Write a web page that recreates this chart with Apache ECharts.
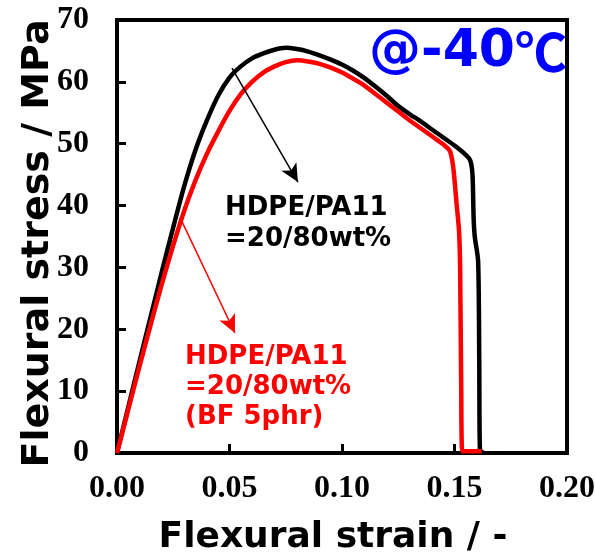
<!DOCTYPE html>
<html>
<head>
<meta charset="UTF-8">
<title>Flexural stress-strain @-40℃</title>
<script type="text/javascript" src="https://cdn.jsdelivr.net/npm/echarts@6/dist/echarts.min.js"></script>
<style>
  body{margin:0;background:#fff}
</style>
</head>
<body>
<div id="main" style="width:595px;height:557px"></div>
<script type="text/javascript">
// strain (-) / stress (MPa)
var blendStrain = [0,0.005,0.01,0.015,0.02,0.025,0.03,0.035,0.04,0.045,0.05,0.055,0.06,0.065,0.07,0.075,0.08,0.085,0.09,0.095,0.1,0.105,0.11,0.115,0.12,0.125,0.13,0.135,0.14,0.145,0.15,0.155,0.157,0.158,0.1585,0.159,0.1605,0.161,0.1613,0.163];
var blendStress = [0,7.4,14.8,22.1,29.4,36.5,43.3,49.1,53.8,57.8,60.7,62.5,63.8,64.6,65.2,65.5,65.3,64.9,64.3,63.6,62.8,61.8,60.6,59.2,57.7,56.1,54.8,53.6,52.3,51.0,49.7,48.2,47.3,45,38,35,31,15,0.5,0];

var bfStrain = [0,0.005,0.01,0.015,0.02,0.025,0.03,0.035,0.04,0.045,0.05,0.055,0.06,0.065,0.07,0.075,0.08,0.085,0.09,0.095,0.1,0.105,0.11,0.115,0.12,0.125,0.13,0.135,0.14,0.145,0.148,0.1495,0.151,0.152,0.1525,0.153,0.1535,0.162];
var bfStress = [0,7.0,14.0,20.8,27.4,33.6,39.3,44.2,48.4,52.0,55.3,58.0,60.0,61.5,62.5,63.2,63.5,63.3,62.9,62.3,61.5,60.5,59.4,58.0,56.6,55.2,53.8,52.5,51.2,49.9,48.8,46,40,36,30,10,0.3,0.3];

var xTicks = [0, 0.05, 0.10, 0.15, 0.20];
var yTicks = [0, 10, 20, 30, 40, 50, 60, 70];

// annotation arrows, [strain, stress] from -> to
var blackArrow = [[0.0511, 62.2], [0.0804, 43.8]];
var redArrow = [[0.028, 38.1], [0.0524, 19.4]];

function pairs(xs, ys) {
    return xs.map(function (x, i) { return [x, ys[i]]; });
}

var myChart = echarts.init(document.getElementById('main'));

var tickFont = {fontFamily: 'Liberation Serif', fontWeight: 'bold', fontSize: 32, color: '#000'};
var titleFont = {fontFamily: 'DejaVu Sans', fontWeight: 'bold', color: '#000'};
var noteFont = 'bold 26px "DejaVu Sans"';

var option = {
    animation: false,
    backgroundColor: '#fff',
    grid: {
        left: 117, right: 28, top: 20, bottom: 104,
        outerBoundsMode: 'none',
        show: true, borderColor: '#000', borderWidth: 4
    },
    xAxis: {
        type: 'value',
        min: xTicks[0], max: xTicks[xTicks.length - 1], interval: 0.05,
        name: 'Flexural strain / -',
        nameLocation: 'middle', nameGap: 67,
        nameTextStyle: Object.assign({fontSize: 36, padding: [0, 18, 0, 0]}, titleFont),
        axisLine: {lineStyle: {color: '#000', width: 4}},
        axisTick: {inside: true, length: 9, lineStyle: {color: '#000', width: 3}},
        axisLabel: Object.assign({margin: 20, formatter: function (v) { return v.toFixed(2); }}, tickFont),
        splitLine: {show: false}
    },
    yAxis: {
        type: 'value',
        min: yTicks[0], max: yTicks[yTicks.length - 1], interval: 10,
        name: 'Flexural stress / MPa',
        nameLocation: 'middle', nameGap: 60, nameRotate: 90,
        nameMoveOverlap: false,
        nameTextStyle: Object.assign({fontSize: 38, padding: [0, 14, 0, 0]}, titleFont),
        axisLine: {show: true, lineStyle: {color: '#000', width: 4}},
        axisTick: {show: true, inside: true, length: 9, lineStyle: {color: '#000', width: 3}},
        axisLabel: Object.assign({margin: 28}, tickFont),
        splitLine: {show: false}
    },
    series: [
        {
            name: 'HDPE/PA11 =20/80wt%',
            type: 'line',
            data: pairs(blendStrain, blendStress),
            showSymbol: false,
            smooth: 0.25,
            lineStyle: {color: '#000', width: 4.5},
            z: 2,
            markLine: {
                silent: true,
                symbol: ['none', 'arrow'],
                symbolSize: [13, 18],
                label: {show: false},
                lineStyle: {color: '#000', width: 1.5, type: 'solid'},
                data: [[{coord: blackArrow[0]}, {coord: blackArrow[1]}]]
            }
        },
        {
            name: 'HDPE/PA11 =20/80wt% (BF 5phr)',
            type: 'line',
            data: pairs(bfStrain, bfStress),
            showSymbol: false,
            smooth: 0.25,
            lineStyle: {color: '#ff0000', width: 4.5},
            z: 3,
            markLine: {
                silent: true,
                symbol: ['none', 'arrow'],
                symbolSize: [13, 18],
                label: {show: false},
                lineStyle: {color: '#ff0000', width: 1.5, type: 'solid'},
                data: [[{coord: redArrow[0]}, {coord: redArrow[1]}]]
            }
        }
    ],
    graphic: [
        {
            type: 'text', right: 28, top: 26,
            style: {
                text: '{a|@-40}{b|℃}',
                fill: '#0000ff',
                rich: {
                    a: {fontFamily: 'DejaVu Sans', fontWeight: 'bold', fontSize: 52, fill: '#0000ff'},
                    b: {fontFamily: 'Noto Sans CJK JP', fontWeight: 'bold', fontSize: 52, fill: '#0000ff'}
                }
            }
        },
        {type: 'text', left: 225, top: 193, style: {text: 'HDPE/PA11\n=20/80wt%', font: noteFont, lineHeight: 31, fill: '#000'}},
        {type: 'text', left: 185, top: 342, style: {text: 'HDPE/PA11\n=20/80wt%\n(BF 5phr)', font: noteFont, lineHeight: 30, fill: '#ff0000'}}
    ]
};

myChart.setOption(option);
</script>
</body>
</html>
